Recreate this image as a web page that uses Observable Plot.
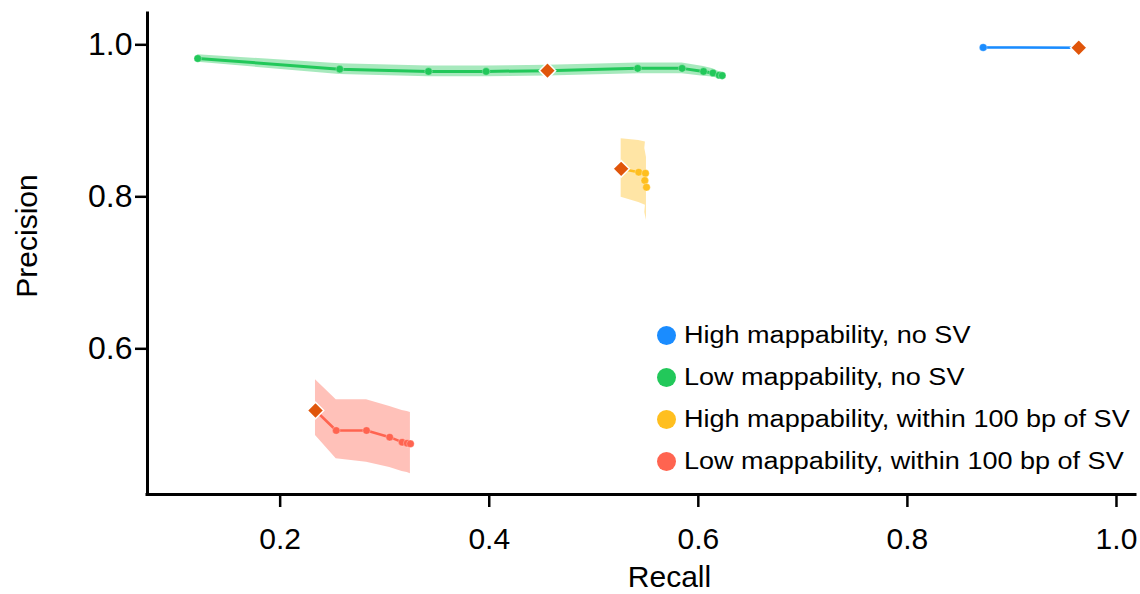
<!DOCTYPE html>
<html>
<head>
<meta charset="utf-8">
<script src="https://cdn.jsdelivr.net/npm/d3@7"></script>
<script src="https://cdn.jsdelivr.net/npm/@observablehq/plot@0.6"></script>
<style>
  html, body { margin: 0; padding: 0; background: #fff; }
  #wrap { position: relative; width: 1140px; height: 594px; font-family: "Liberation Sans", Arial, Helvetica, sans-serif; }
  #legend { position: absolute; left: 657px; top: 314px; }
  .row { display: flex; align-items: center; height: 42.2px; white-space: nowrap; }
  .sw { width: 19px; height: 19px; border-radius: 50%; margin-right: 8px; flex: none; }
  .lt { font-size: 23.5px; color: #000; display: inline-block; transform: scaleX(1.15); transform-origin: left center; }
</style>
</head>
<body>
<div id="wrap"></div>
<script>
// ---- data ----
const categories = [
  "High mappability, no SV",
  "Low mappability, no SV",
  "High mappability, within 100 bp of SV",
  "Low mappability, within 100 bp of SV"
];
const seriesColors = ["#1a8cff", "#22c85a", "#ffbf1f", "#ff6450"];
const diamondColor = "#e0550a";

// High mappability, no SV
const highNoSvRecall    = [0.8725, 0.9639];
const highNoSvPrecision = [0.9965, 0.9961];
const highNoSvLower     = [0.9958, 0.9954];
const highNoSvUpper     = [0.9972, 0.9968];

// Low mappability, no SV
const lowNoSvRecall    = [0.1212, 0.257, 0.3419, 0.397, 0.4557, 0.542, 0.5845, 0.605, 0.614, 0.620, 0.6228];
const lowNoSvPrecision = [0.982, 0.968, 0.965, 0.965, 0.966, 0.969, 0.969, 0.965, 0.963, 0.960, 0.9595];
const lowNoSvLower     = [0.977, 0.961, 0.958, 0.958, 0.959, 0.962, 0.962, 0.9585, 0.9575, 0.9555, 0.955];
const lowNoSvUpper     = [0.987, 0.975, 0.972, 0.972, 0.973, 0.976, 0.976, 0.9715, 0.9685, 0.9645, 0.964];

// High mappability, within 100 bp of SV
const highSvRecall    = [0.5262, 0.543, 0.5494, 0.5488, 0.5504];
const highSvPrecision = [0.8368, 0.8324, 0.831, 0.8214, 0.8126];
const highSvLower     = [0.7995, 0.7925, 0.789, 0.7793, 0.7688];
const highSvUpper     = [0.8763, 0.874, 0.872, 0.8636, 0.8517];

// Low mappability, within 100 bp of SV
const lowSvRecall    = [0.2338, 0.2536, 0.2826, 0.3048, 0.3167, 0.3215, 0.3246];
const lowSvPrecision = [0.5188, 0.4925, 0.4925, 0.4837, 0.4771, 0.4758, 0.4750];
const lowSvLower     = [0.4859, 0.4553, 0.4508, 0.4438, 0.4386, 0.4372, 0.4355];
const lowSvUpper     = [0.5592, 0.5329, 0.5329, 0.5241, 0.5188, 0.5175, 0.5162];

// default-threshold operating points (diamonds)
const diamondRecall    = [0.9639, 0.4557, 0.5262, 0.2338];
const diamondPrecision = [0.9961, 0.966, 0.8368, 0.5188];

const xTicks = [0.2, 0.4, 0.6, 0.8, 1.0];
const yTicks = [0.6, 0.8, 1.0];
const xDomain = [0.0731, 1.0182];
const yDomain = [0.4083, 1.0412];

// ---- build table ----
const seriesArrays = [
  [highNoSvRecall, highNoSvPrecision, highNoSvLower, highNoSvUpper],
  [lowNoSvRecall, lowNoSvPrecision, lowNoSvLower, lowNoSvUpper],
  [highSvRecall, highSvPrecision, highSvLower, highSvUpper],
  [lowSvRecall, lowSvPrecision, lowSvLower, lowSvUpper]
];
const rows = [];
seriesArrays.forEach(([r, p, lo, hi], i) => {
  r.forEach((v, j) => rows.push({series: categories[i], recall: v, precision: p[j], lo: lo[j], hi: hi[j]}));
});
const diamonds = diamondRecall.map((v, i) => ({series: categories[i], recall: v, precision: diamondPrecision[i]}));
const lineWidth = {[categories[0]]: 2.5, [categories[1]]: 3, [categories[2]]: 2.5, [categories[3]]: 2.5};

const font = '"Liberation Sans", Arial, Helvetica, sans-serif';

const chart = Plot.plot({
  width: 1140,
  height: 594,
  marginLeft: 147,
  marginRight: 5,
  marginTop: 13,
  marginBottom: 100,
  style: {fontFamily: font, fontSize: "26px", color: "#000", background: "transparent"},
  x: {domain: xDomain},
  y: {domain: yDomain},
  color: {domain: categories, range: seriesColors},
  marks: [
    Plot.areaY(rows, {x: "recall", y1: "lo", y2: "hi", z: "series", fill: "series", fillOpacity: 0.4}),
    ...categories.map(c => Plot.line(rows.filter(d => d.series === c), {x: "recall", y: "precision", stroke: "series", strokeWidth: lineWidth[c]})),
    Plot.dot(rows, {x: "recall", y: "precision", fill: "series", r: 3.8, stroke: "white", strokeWidth: 0.4, strokeOpacity: 0.7}),
    Plot.dot(diamonds, {x: "recall", y: "precision", symbol: "diamond2", r: 7.4, fill: diamondColor, stroke: "white", strokeWidth: 1.5}),
    Plot.ruleX([xDomain[0]], {strokeWidth: 3, strokeLinecap: "square"}),
    Plot.ruleY([yDomain[0]], {strokeWidth: 3, strokeLinecap: "square"}),
    Plot.axisX({ticks: xTicks, tickFormat: d3.format(".1f"), tickSize: 13, tickPadding: 20, strokeWidth: 2.5, label: null, fontSize: 30}),
    Plot.axisY({ticks: yTicks, tickFormat: d3.format(".1f"), tickSize: 12, tickPadding: 3, strokeWidth: 2.5, label: null, fontSize: 32}),
    Plot.text(["Recall"], {frameAnchor: "bottom", dx: 28, dy: 83, fontSize: 30, lineAnchor: "middle", textAnchor: "middle"}),
    Plot.text(["Precision"], {frameAnchor: "left", dx: -120, dy: -18, rotate: -90, fontSize: 30, lineAnchor: "middle", textAnchor: "middle"})
  ]
});

const wrap = document.getElementById("wrap");
wrap.appendChild(chart);

const legend = document.createElement("div");
legend.id = "legend";
categories.forEach((c, i) => {
  const row = document.createElement("div");
  row.className = "row";
  const sw = document.createElement("span");
  sw.className = "sw";
  sw.style.background = seriesColors[i];
  const t = document.createElement("span");
  t.className = "lt";
  t.textContent = c;
  row.appendChild(sw);
  row.appendChild(t);
  legend.appendChild(row);
});
wrap.appendChild(legend);
</script>
</body>
</html>
